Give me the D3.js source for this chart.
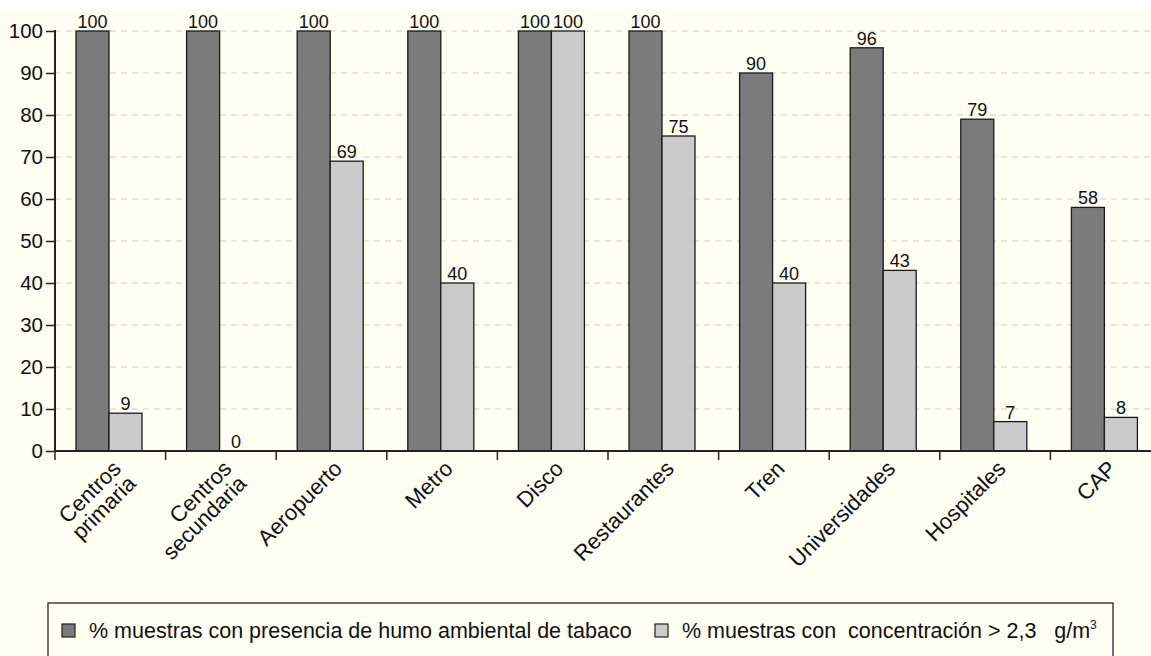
<!DOCTYPE html>
<html>
<head>
<meta charset="utf-8">
<script src="https://cdn.jsdelivr.net/npm/d3@7"></script>
<style>
  body { margin: 0; background: #fff; }
  text { font-family: "Liberation Sans", Arial, sans-serif; fill: #111; }
</style>
</head>
<body>
<script>
// categories and the two series
const categories = ["Centros\nprimaria", "Centros\nsecundaria", "Aeropuerto", "Metro", "Disco",
  "Restaurantes", "Tren", "Universidades", "Hospitales", "CAP"];
const presencia = [100, 100, 100, 100, 100, 100, 90, 96, 79, 58];
const concentracion = [9, 0, 69, 40, 100, 75, 40, 43, 7, 8];
const yTicks = [0, 10, 20, 30, 40, 50, 60, 70, 80, 90, 100];
const legendLabels = ["% muestras con presencia de humo ambiental de tabaco",
  "% muestras con  concentración > 2,3   g/m"];
const colors = ["#7b7b7b", "#cbcbcb"];

const width = 1151, height = 656;
const margin = { top: 31, left: 55, bottom: 205 };

const svg = d3.select('body').append('svg')
  .attr('width', width)
  .attr('height', height);

svg.append('rect')
  .attr('x', 0).attr('y', 10)
  .attr('width', width).attr('height', height - 10)
  .attr('fill', '#fefef3');

const x = d3.scaleBand().domain(categories).range([margin.left, margin.left + 110.6 * 10]);
const y = d3.scaleLinear().domain([0, 100]).range([height - margin.bottom, margin.top]);

// gridlines
svg.append('g')
  .selectAll('line')
  .data(yTicks.filter(d => d > 0))
  .join('line')
  .attr('x1', margin.left).attr('x2', width)
  .attr('y1', d => y(d)).attr('y2', d => y(d))
  .attr('stroke', '#d0d0d0')
  .attr('stroke-width', 1.2)
  .attr('stroke-dasharray', '6,5');

const barW = 33, gap = 21;
const series = [presencia, concentracion];

series.forEach((vals, s) => {
  const g = svg.append('g');
  g.selectAll('rect')
    .data(categories)
    .join('rect')
    .attr('x', d => x(d) + gap + s * barW)
    .attr('y', (d, i) => y(vals[i]))
    .attr('width', barW)
    .attr('height', (d, i) => y(0) - y(vals[i]))
    .attr('fill', colors[s])
    .attr('stroke', '#1a1a1a')
    .attr('stroke-width', 1.3);
  g.selectAll('text')
    .data(categories)
    .join('text')
    .attr('x', d => x(d) + gap + s * barW + barW / 2)
    .attr('y', (d, i) => y(vals[i]) - 3)
    .attr('text-anchor', 'middle')
    .attr('font-size', 18)
    .text((d, i) => vals[i]);
});

// y axis
const yAxis = d3.axisLeft(y).tickValues(yTicks).tickSize(9).tickPadding(3);
const ya = svg.append('g')
  .attr('transform', `translate(${margin.left},0)`)
  .call(yAxis);
ya.selectAll('text').attr('font-size', 20.5).style('font-family', '"Liberation Sans", Arial, sans-serif');
ya.select('.domain').attr('stroke', '#222').attr('stroke-width', 2).attr('d', `M0,${y(0)}V${y(100) - 1}`);
ya.selectAll('.tick line').attr('stroke', '#222').attr('stroke-width', 1.5);

// x axis
const xa = svg.append('g')
  .attr('transform', `translate(0,${y(0)})`);
xa.append('line')
  .attr('x1', margin.left).attr('x2', width)
  .attr('stroke', '#222').attr('stroke-width', 2);
xa.selectAll('.tk')
  .data(categories)
  .join('line')
  .attr('class', 'tk')
  .attr('x1', d => x(d)).attr('x2', d => x(d))
  .attr('y1', 0).attr('y2', 9)
  .attr('stroke', '#222').attr('stroke-width', 1.5);

const lbl = xa.selectAll('.lbl')
  .data(categories)
  .join('text')
  .attr('class', 'lbl')
  .attr('font-size', 22)
  .attr('text-anchor', 'end')
  .attr('transform', d => `translate(${x(d) + x.bandwidth() / 2 + 12},${19}) rotate(-45)`);
lbl.each(function(d) {
  const lines = d.split('\n');
  const t = d3.select(this);
  lines.forEach((l, i) => {
    t.append('tspan')
      .attr('x', 0)
      .attr('y', i * 21)
      .text(l);
  });
});

// legend
const lg = svg.append('g');
lg.append('rect')
  .attr('x', 48).attr('y', 603)
  .attr('width', 1065).attr('height', 70)
  .attr('fill', 'none')
  .attr('stroke', '#222').attr('stroke-width', 1.3);
const legX = [62, 655];
legendLabels.forEach((l, i) => {
  lg.append('rect')
    .attr('x', legX[i]).attr('y', 624)
    .attr('width', 13).attr('height', 13)
    .attr('fill', colors[i])
    .attr('stroke', '#222').attr('stroke-width', 1.2);
  const t = lg.append('text')
    .attr('x', legX[i] + 27).attr('y', 638)
    .attr('font-size', 21.5)
    .style('white-space', 'pre')
    .text(l);
  if (i === 1) t.append('tspan').attr('dy', -9).attr('font-size', 12).text('3');
});
</script>
</body>
</html>
